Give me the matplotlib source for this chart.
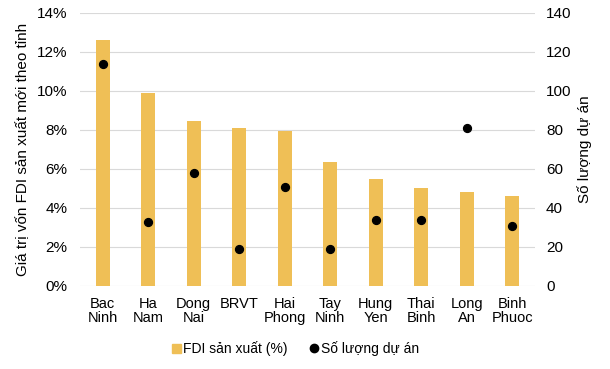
import matplotlib.pyplot as plt
from matplotlib.ticker import PercentFormatter
from matplotlib.lines import Line2D
from matplotlib.patches import Patch

plt.rcParams['font.family'] = ['Liberation Sans', 'DejaVu Sans']

provinces = ["Bac\nNinh", "Ha\nNam", "Dong\nNai", "BRVT", "Hai\nPhong",
             "Tay\nNinh", "Hung\nYen", "Thai\nBinh", "Long\nAn", "Binh\nPhuoc"]
fdi_share = [12.6, 9.9, 8.45, 8.1, 7.95, 6.35, 5.5, 5.03, 4.82, 4.62]
projects = [114, 33, 58, 19, 51, 19, 34, 34, 81, 31]

bar_color = "#EFBF56"

fig = plt.figure(figsize=(6.1, 3.69), dpi=100)
ax = fig.add_axes([0.131, 0.225, 0.746, 0.74])
x = range(len(provinces))

ax.bar(x, fdi_share, width=0.31, color=bar_color, zorder=2)
ax.set_ylim(0, 14)
ax.set_yticks(range(0, 15, 2))
ax.yaxis.set_major_formatter(PercentFormatter(decimals=0))
ax.set_xlim(-0.5, len(provinces) - 0.5)
ax.set_xticks(list(x))
ax.set_xticklabels(provinces, fontsize=10.5, linespacing=1.0)
ax.grid(axis='y', color='#d9d9d9', linewidth=0.8, zorder=0)
ax.set_ylabel("Giá trị vốn FDI sản xuất mới theo tỉnh", fontsize=11, labelpad=5)
ax.tick_params(axis='y', length=0, labelsize=11, pad=9)
ax.tick_params(axis='x', length=0, labelsize=10.5, pad=8)
for s in ax.spines.values():
    s.set_visible(False)

ax2 = ax.twinx()
ax2.scatter(x, projects, s=32, color='black', zorder=3)
ax2.set_ylim(0, 140)
ax2.set_yticks(range(0, 141, 20))
ax2.set_ylabel("Số lượng dự án", fontsize=11, labelpad=4)
ax2.tick_params(axis='y', length=0, labelsize=11, pad=8)
for s in ax2.spines.values():
    s.set_visible(False)

handles = [Patch(color=bar_color, label="FDI sản xuất (%)"),
           Line2D([], [], marker='o', color='black', linestyle='None',
                  markersize=6, label="Số lượng dự án")]
fig.legend(handles=handles, loc='center', bbox_to_anchor=(0.485, 0.055),
           ncol=2, frameon=False, fontsize=10, handlelength=0.6,
           handleheight=0.6, handletextpad=0.2, columnspacing=1.6)

plt.savefig("out.png", dpi=100)
